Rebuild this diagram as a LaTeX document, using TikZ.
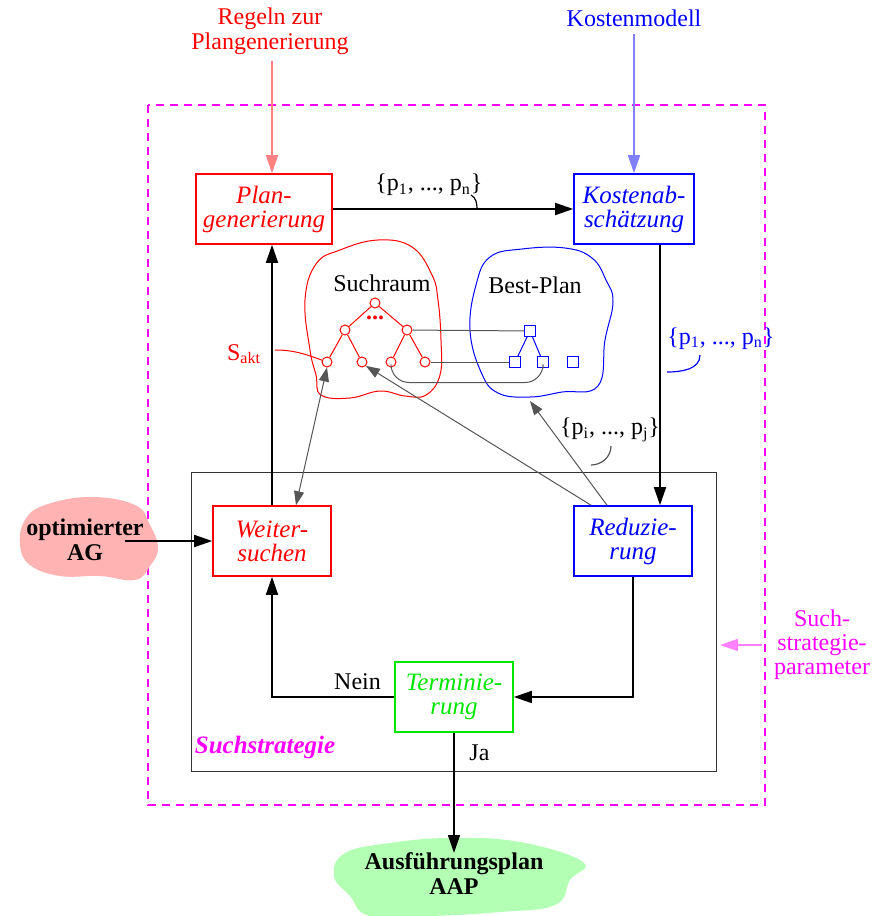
\documentclass[tikz,border=0pt]{standalone}
\usepackage{fontspec}
\setmainfont{Liberation Serif}
\usetikzlibrary{arrows.meta}
\definecolor{lred}{HTML}{FF8080}
\definecolor{lblue}{HTML}{8080FF}
\definecolor{lmag}{HTML}{FF80FF}
\definecolor{mag}{HTML}{FF00FF}
\definecolor{tgreen}{HTML}{00E600}
\definecolor{agpink}{HTML}{FFB3B3}
\definecolor{aapgreen}{HTML}{B3FFB3}
\definecolor{linkgray}{HTML}{555555}

\begin{document}
\begin{tikzpicture}[x=0.5pt,y=-0.5pt,>={Triangle[length=9pt,width=6pt]},
    font=\fontsize{12}{12.5}\selectfont,
    box/.style={rectangle,draw,line width=0.8pt,minimum width=59pt,minimum height=35pt,
      inner sep=1pt,align=center,font=\fontsize{12.5}{12}\selectfont\itshape},
    tn/.style={circle,draw=red,fill=white,inner sep=0pt,minimum size=5pt,line width=0.5pt},
    sq/.style={rectangle,draw=blue,fill=white,inner sep=0pt,minimum size=5.5pt,line width=0.5pt},
    flow/.style={->,line width=0.8pt},
    link/.style={linkgray,line width=0.5pt},
    hook/.style={line width=0.6pt}]
  \useasboundingbox (0,0) rectangle (892,916);

  % outer frames
  \draw[mag,line width=0.7pt,dash pattern=on 4pt off 3pt] (148,105) rectangle (765,805);
  \draw[black!80,line width=0.5pt] (191,472) rectangle (716,771);
  \node[mag,font=\fontsize{12.5}{12}\selectfont\itshape\bfseries] (sslabel) at (265,747) {Suchstrategie};

  % blobs
  \fill[agpink] plot[smooth cycle,tension=0.7] coordinates {(45,505) (90,497) (135,505) (150,525) (158,548) (150,566) (135,580) (100,576) (60,576) (30,565) (20,545) (25,520)};
  \fill[aapgreen] plot[smooth cycle,tension=0.7] coordinates {(345,853) (390,843) (450,838) (520,842) (583,862) (570,880) (555,905) (500,912) (430,916) (370,916) (350,896) (334,876)};
  \draw[red,line width=0.5pt] plot[smooth cycle,tension=0.7] coordinates {(340,250) (378,240) (412,247) (432,275) (438,300) (441,340) (440,375) (426,395) (405,396) (380,391) (350,398) (321,395) (316,375) (310,350) (305,300) (316,264)};
  \draw[blue,line width=0.5pt] plot[smooth cycle,tension=0.7] coordinates {(490,257) (522,249) (565,248) (592,258) (606,280) (613,302) (605,340) (598,386) (562,392) (530,397) (498,393) (481,372) (470,330) (476,285)};
  \node (suchraum) at (382,283) {Suchraum};
  \node (bestplan) at (535,285) {Best-Plan};
  \coordinate (bpbottom) at (530,401);

  % main boxes
  \node[box,red,minimum width=68pt] (plan) at (264,209) {Plan-\\generierung};
  \node[box,blue,minimum width=60pt] (kosten) at (634,209) {Kostenab-\\schätzung};
  \node[box,red] (weiter) at (272,541) {Weiter-\\suchen};
  \node[box,blue] (reduz) at (633,541) {Reduzie-\\rung};
  \node[box,tgreen] (termin) at (454,697) {Terminie-\\rung};

  % inputs and outputs
  \node[red,align=center] (regeln) at (270,31) {Regeln zur\\Plangenerierung};
  \node[blue] (modell) at (634,18) {Kostenmodell};
  \node[mag,align=center,font=\fontsize{12}{12}\selectfont] (param) at (822,645) {Such-\\strategie-\\parameter};
  \node[align=center,font=\fontsize{12}{12.5}\selectfont\bfseries] (ag) at (85,540) {optimierter\\AG};
  \node[align=center,font=\fontsize{12}{12.5}\selectfont\bfseries] (aap) at (454,874) {Ausführungsplan\\AAP};
  \coordinate (aaptop) at (454,853);
  \coordinate (agend) at (125,541);
  \coordinate (paramstart) at (762,645);
  \coordinate (paramend) at (720,645);

  \draw[->,lred,line width=0.8pt] (regeln.south -| plan.north) ++(8,0) -- ([xshift=4pt]plan.north);
  \draw[->,lblue,line width=0.8pt] (modell) -- (kosten);
  \draw[->,lmag,line width=0.8pt] (paramstart) -- (paramend);

  % search tree
  \node[tn] (r) at (375,303) {};
  \node[tn] (b1) at (345,330) {};
  \node[tn] (b2) at (407,330) {};
  \node[red,font=\fontsize{12}{12}\selectfont\bfseries] (dots) at (375,318) {...};
  \node[tn] (c1) at (327,362) {};
  \node[tn] (c2) at (362,362) {};
  \node[tn] (c3) at (391,362) {};
  \node[tn] (c4) at (425,362) {};
  \draw[red,line width=0.5pt] (r) -- (b1) (r) -- (b2) (b1) -- (c1) (b1) -- (c2) (b2) -- (c3) (b2) -- (c4);

  % best plan
  \node[sq] (q0) at (530,331) {};
  \node[sq] (q1) at (515,362) {};
  \node[sq] (q2) at (543,362) {};
  \node[sq] (q3) at (573,362) {};
  \draw[blue,line width=0.5pt] (q0) -- (q1) (q0) -- (q2);

  \draw[link] (b2) -- (q0);
  \draw[link] (c4) -- (q1);
  \draw[link,rounded corners=9pt] (c3.south) -- ++(0,15) -| (q2.south);

  % S_akt
  \node[red] (sakt) at (244,354) {S\textsubscript{akt}};
  \draw[red,line width=0.5pt] (275,350) to[out=0,in=160] (c1);

  % flow arrows
  \draw[flow] (plan) -- node[pos=0.4,above=3pt] (plist) {\{p\textsubscript{1}, ..., p\textsubscript{n}\}} (kosten);
  \draw[hook] (471,195) to[out=-30,in=90] (477,209);
  \draw[flow] ([xshift=13pt]kosten.south) -- node[pos=0.36,anchor=west,xshift=0pt,blue] (plist2) {\{p\textsubscript{1}, ..., p\textsubscript{n}\}} ([xshift=13.5pt]reduz.north);
  \draw[hook,blue] (700,355) to[out=-90,in=0] (667,372);
  \node (pij) at (610,430) {\{p\textsubscript{i}, ..., p\textsubscript{j}\}};
  \draw[hook,linkgray] (611,446) to[out=-90,in=0] (591,465);

  \draw[flow] (weiter.north) -- (weiter.north |- plan.south);
  \draw[flow] (agend) -- (weiter.west);
  \draw[flow] (reduz.south) |- (termin.east);
  \draw[flow] (termin.west) -| node[pos=0.15,above] (nein) {Nein} (weiter.south);
  \draw[flow] (termin.south) -- node[pos=0.17,right=4pt] (ja) {Ja} (aaptop);

  % links into the search space
  \draw[link,<->,>={Triangle[length=7pt,width=5pt]}] ([xshift=12pt]weiter.north) -- (c1.south);
  \draw[link,->,>={Triangle[length=7pt,width=5pt]}] ([xshift=-21pt]reduz.north) -- (c2.south east);
  \draw[link,->,>={Triangle[length=7pt,width=5pt]}] ([xshift=-13pt]reduz.north) -- (bpbottom);
\end{tikzpicture}
\end{document}
